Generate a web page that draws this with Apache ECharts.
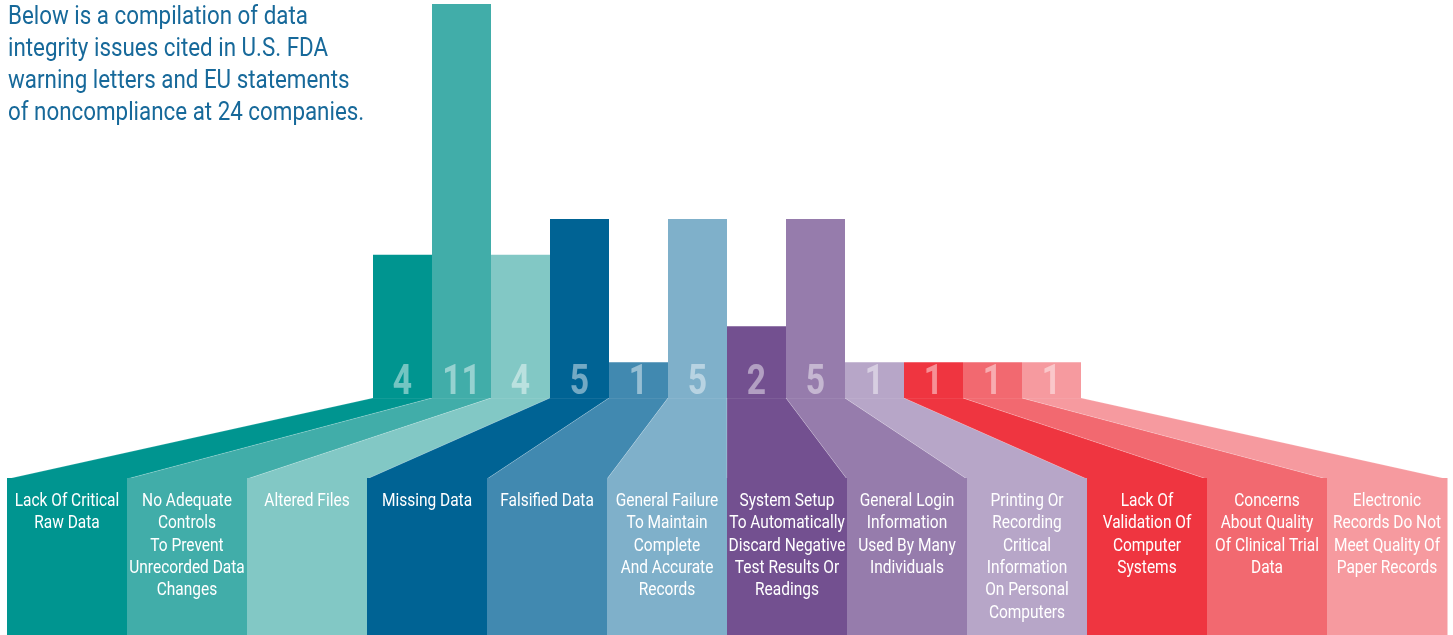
<!DOCTYPE html>
<html>
<head>
<meta charset="utf-8">
<script src="https://cdn.jsdelivr.net/npm/echarts@6/dist/echarts.min.js"></script>
<style>
html,body{margin:0;padding:0;background:#fff;}
#chart{width:1453px;height:635px;}
</style>
</head>
<body>
<div id="chart"></div>
<script>
// ---- data ----
const categories = [
  "Lack Of Critical\nRaw Data",
  "No Adequate\nControls\nTo Prevent\nUnrecorded Data\nChanges",
  "Altered Files",
  "Missing Data",
  "Falsified Data",
  "General Failure\nTo Maintain\nComplete\nAnd Accurate\nRecords",
  "System Setup\nTo Automatically\nDiscard Negative\nTest Results Or\nReadings",
  "General Login\nInformation\nUsed By Many\nIndividuals",
  "Printing Or\nRecording\nCritical\nInformation\nOn Personal\nComputers",
  "Lack Of\nValidation Of\nComputer\nSystems",
  "Concerns\nAbout Quality\nOf Clinical Trial\nData",
  "Electronic\nRecords Do Not\nMeet Quality Of\nPaper Records"
];
const counts = [4, 11, 4, 5, 1, 5, 2, 5, 1, 1, 1, 1];
const titleText = "Below is a compilation of data\nintegrity issues cited in U.S. FDA\nwarning letters and EU statements\nof noncompliance at 24 companies.";

// ---- style ----
const colors = ["#009590","#41ada9","#82c8c5","#006394","#4189b0","#7fb0ca",
                "#735090","#967cac","#b7a6c8","#ef3540","#f26970","#f69a9f"];
const FONT = "Roboto, 'Liberation Sans', sans-serif";
const NARROW = 0.86;

const chart = echarts.init(document.getElementById('chart'), null, {renderer: 'canvas'});

const option = {
  animation: false,
  backgroundColor: '#ffffff',
  grid: [
    {left: 373, width: 708, top: 4, bottom: 237},
    {left: 7, right: 6, top: 478, bottom: 0}
  ],
  xAxis: [
    {gridIndex: 0, type: 'category', data: categories.map((c, i) => i), show: false},
    {gridIndex: 1, type: 'category', data: categories.map((c, i) => i), show: false}
  ],
  yAxis: [
    {gridIndex: 0, type: 'value', min: 0, max: 11, show: false},
    {gridIndex: 1, type: 'value', min: 0, max: 1, show: false}
  ],
  series: [
    {
      type: 'bar', xAxisIndex: 0, yAxisIndex: 0,
      barCategoryGap: 0,
      data: counts.map((v, i) => ({value: v, itemStyle: {color: colors[i]}}))
    },
    {
      // value numbers at the base of each bar
      type: 'custom', xAxisIndex: 0, yAxisIndex: 0, z: 3,
      data: counts.map((v, i) => [i, v]),
      renderItem: function (params, api) {
        const p = api.coord([api.value(0), 0]);
        return {
          type: 'text', x: p[0], y: p[1] - 14.5, scaleX: 0.8,
          style: {text: String(api.value(1)), fill: 'rgba(255,255,255,0.45)',
                  align: 'center', verticalAlign: 'middle',
                  fontFamily: FONT, fontSize: 42, fontWeight: 'bold'}
        };
      }
    },
    {
      type: 'custom', xAxisIndex: 1, yAxisIndex: 1,
      data: categories.map((c, i) => [i]),
      renderItem: function (params, api) {
        const i = params.dataIndex;
        const cs = params.coordSys;
        const c = api.coord([api.value(0), 0]);
        const w = api.size([1, 0])[0];
        return {
          type: 'group',
          children: [
            {type: 'rect', shape: {x: c[0] - w / 2, y: cs.y, width: w + 0.5, height: cs.height},
             style: {fill: colors[i]}},
            {type: 'text', x: c[0], y: cs.y + 12, scaleX: NARROW,
             style: {text: categories[i], fill: '#ffffff', align: 'center', verticalAlign: 'top',
                     fontFamily: FONT, fontSize: 18, lineHeight: 22.4}}
          ]
        };
      }
    }
  ]
};
chart.setOption(option);

// Connector polygons from bar bases to label columns, positioned via the axes.
const graphics = counts.map((v, i) => {
  const barL = chart.convertToPixel({xAxisIndex: 0, yAxisIndex: 0}, [i, 0]);
  const colL = chart.convertToPixel({xAxisIndex: 1, yAxisIndex: 1}, [i, 1]);
  const bw = 708 / counts.length;
  const cw = (1453 - 13) / counts.length;
  return {
    type: 'polygon', z: 0,
    shape: {points: [
      [barL[0] - bw / 2, barL[1]], [barL[0] + bw / 2, barL[1]],
      [colL[0] + cw / 2, colL[1] + 1], [colL[0] - cw / 2, colL[1] + 1]
    ]},
    style: {fill: colors[i], stroke: 'rgba(255,255,255,0.25)', lineWidth: 0.6}
  };
});
graphics.push({
  type: 'text', x: 8, y: 2, scaleX: NARROW, z: 5,
  style: {text: titleText, fill: '#17699a', fontFamily: FONT, fontSize: 26,
          lineHeight: 31.8, verticalAlign: 'top', align: 'left'}
});
chart.setOption({graphic: graphics});
</script>
</body>
</html>
